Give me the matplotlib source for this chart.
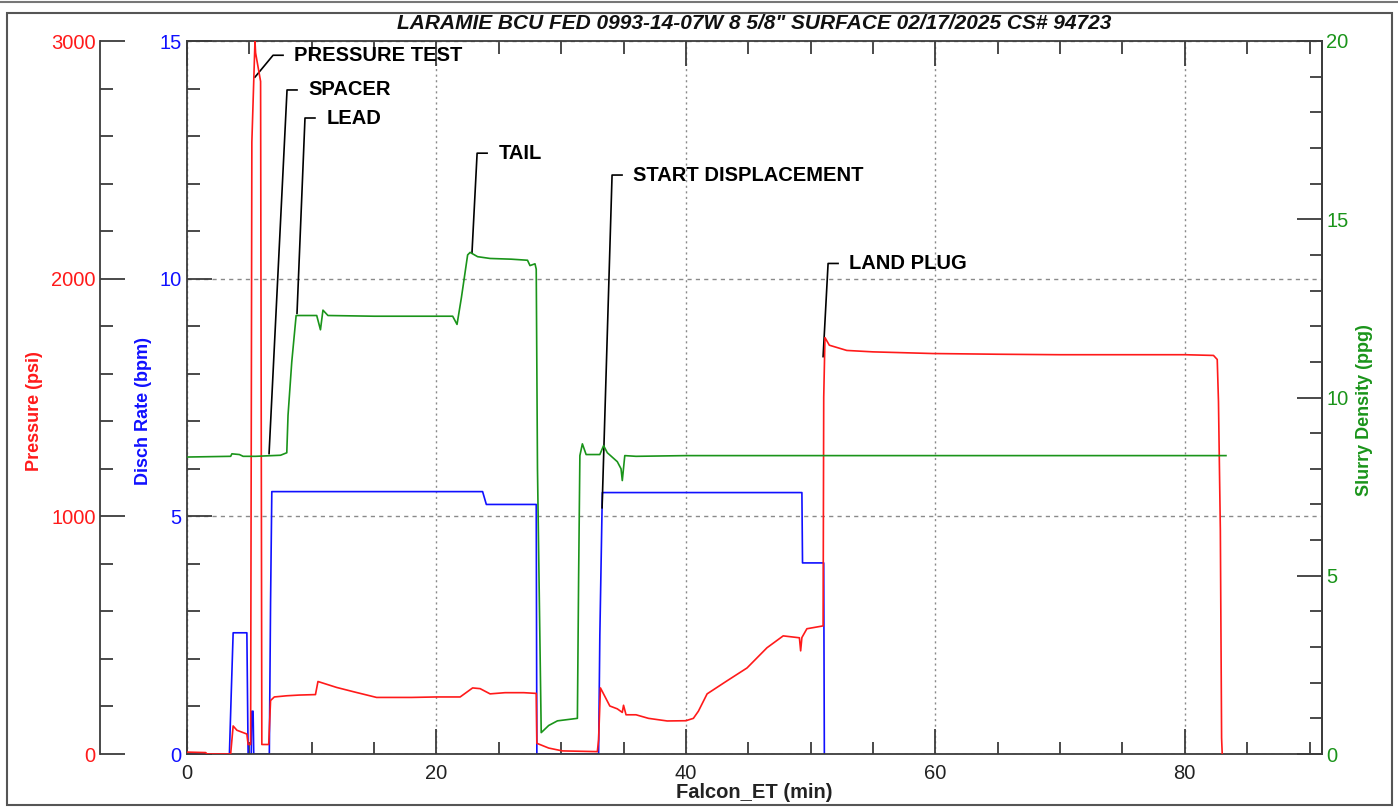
import matplotlib
matplotlib.use('Agg')
import matplotlib.pyplot as plt
from matplotlib.ticker import MultipleLocator
from matplotlib.patches import Rectangle
from matplotlib.lines import Line2D

plt.rcParams['font.family'] = ['Liberation Sans', 'DejaVu Sans']

# --- Dados (tempo em min) ---
pressure_time = [0, 1.5, 1.6, 3.5, 3.7, 4.0, 4.5, 4.8, 4.9, 5.1, 5.2, 5.45, 5.5, 5.9, 6.0,
                 6.55, 6.7, 7.0, 8.0, 9.0, 10.3, 10.5, 10.8, 12.0, 13.5, 15.2, 18.0, 20.0,
                 21.9, 22.9, 23.5, 24.3, 25.5, 27.0, 28.0, 28.05, 29.0, 30.1, 32.9, 33.0,
                 33.15, 33.9, 34.5, 34.9, 35.0, 35.2, 36.0, 37.0, 38.5, 40.0, 40.6, 41.0,
                 41.7, 43.3, 44.9, 46.5, 47.8, 49.1, 49.2, 49.3, 49.7, 51.0, 51.05, 51.15,
                 51.5, 52.9, 55.0, 59.8, 65.0, 70.0, 75.0, 80.0, 82.3, 82.6, 82.7, 82.85,
                 82.95, 83.0]
pressure_psi = [8, 6, 0, 0, 118, 100, 90, 84, 40, 40, 2575, 3000, 2950, 2830, 40,
                40, 225, 240, 245, 248, 250, 305, 300, 280, 260, 238, 238, 240,
                240, 278, 275, 253, 258, 258, 255, 45, 25, 13, 10, 60,
                278, 202, 190, 175, 205, 165, 165, 150, 139, 140, 150, 180,
                253, 308, 362, 447, 497, 489, 434, 490, 527, 539, 1500, 1752,
                1720, 1698, 1692, 1685, 1682, 1680, 1680, 1680, 1677, 1660, 1483, 940,
                67, 0]

rate_time = [0, 3.4, 3.55, 3.7, 4.8, 4.9, 5.15, 5.2, 5.3, 5.35, 6.6, 6.7, 6.8, 23.7,
             24.0, 28.0, 28.05, 33.0, 33.1, 33.3, 49.3, 49.35, 51.05, 51.1]
rate_bpm = [0, 0, 1.3, 2.55, 2.55, 0, 0, 0.9, 0.9, 0, 0, 3.2, 5.52, 5.52,
            5.25, 5.25, 0, 0, 2.5, 5.5, 5.5, 4.02, 4.02, 0]

density_time = [0, 3.5, 3.6, 4.2, 4.5, 5.5, 7.5, 8.0, 8.1, 8.4, 8.75, 10.4, 10.7, 10.9,
                11.3, 15.0, 18.0, 21.3, 21.65, 22.0, 22.5, 22.7, 23.3, 24.3, 26.0, 27.3,
                27.5, 27.9, 28.0, 28.1, 28.4, 29.0, 29.7, 31.3, 31.4, 31.5, 31.7, 32.0,
                33.1, 33.4, 33.7, 34.5, 34.8, 34.9, 35.1, 36.0, 40.0, 83.3]
density_ppg = [8.33, 8.35, 8.42, 8.40, 8.35, 8.35, 8.38, 8.45, 9.5, 11.0, 12.3, 12.3, 11.9, 12.45,
               12.3, 12.28, 12.28, 12.28, 12.05, 12.8, 14.0, 14.07, 13.95, 13.9, 13.88, 13.85,
               13.7, 13.75, 13.6, 8.0, 0.6, 0.8, 0.93, 1.0, 5.0, 8.37, 8.7, 8.4,
               8.4, 8.65, 8.45, 8.2, 8.0, 7.67, 8.37, 8.35, 8.37, 8.37]

# Eventos (âncora na escala de vazão, topo da linha guia)
event_labels = ['PRESSURE TEST', 'SPACER', 'LEAD', 'TAIL', 'START DISPLACEMENT', 'LAND PLUG']
event_time = [5.45, 6.58, 8.82, 22.85, 33.28, 51.0]
event_rate = [14.24, 6.32, 9.27, 10.55, 5.18, 8.36]
label_time = [6.9, 8.02, 9.46, 23.26, 34.08, 51.4]
label_rate = [14.70, 13.97, 13.38, 12.64, 12.18, 10.32]

titulo = 'LARAMIE BCU FED 0993-14-07W 8 5/8" SURFACE 02/17/2025 CS# 94723'

RED = '#ff1a1a'
BLUE = '#1010ff'
GREEN = '#1a941a'
SPINE = '#3c3c3c'

W, H = 1398, 810
fig = plt.figure(figsize=(W / 100, H / 100), dpi=100)
ax = fig.add_axes([187 / W, 1 - 754 / H, (1322 - 187) / W, (754 - 41) / H])
ax_p = ax.twinx()
ax_d = ax.twinx()

# Moldura externa
fig.patches.append(Rectangle((7 / W, 1 - 805 / H), (1392 - 7) / W, (805 - 13) / H,
                             transform=fig.transFigure, fill=False, ec='#555555', lw=1.5))
fig.lines.append(Line2D([0, 1], [1 - 1.5 / H, 1 - 1.5 / H], transform=fig.transFigure,
                        color='#777777', lw=1.5))

# Curvas
ax.plot(rate_time, rate_bpm, color=BLUE, lw=1.2)
ax_p.plot(pressure_time, pressure_psi, color=RED, lw=1.2)
ax_d.plot(density_time, density_ppg, color=GREEN, lw=1.2)

# Linhas guia dos eventos
for lab, t0, r0, t1, r1 in zip(event_labels, event_time, event_rate, label_time, label_rate):
    ax.plot([t0, t1, t1 + 0.8], [r0, r1, r1], color='black', lw=1.2, zorder=5)
    ax.text(t1 + 1.7, r1, lab, ha='left', va='center', fontsize=14.5, fontweight='bold',
            color='black', zorder=6)

# Eixos
ax.set_xlim(0, 91)
ax.set_ylim(0, 15)
ax_p.set_ylim(0, 3000)
ax_d.set_ylim(0, 20)

ax.xaxis.set_major_locator(MultipleLocator(20))
ax.xaxis.set_minor_locator(MultipleLocator(5))
ax.yaxis.set_major_locator(MultipleLocator(5))
ax.yaxis.set_minor_locator(MultipleLocator(1))
ax_p.yaxis.set_major_locator(MultipleLocator(1000))
ax_p.yaxis.set_minor_locator(MultipleLocator(200))
ax_d.yaxis.set_major_locator(MultipleLocator(5))
ax_d.yaxis.set_minor_locator(MultipleLocator(1))

# Grade
ax.xaxis.grid(True, which='major', color='#8a8a8a', linestyle=(0, (1.5, 2.5)), lw=1)
ax.yaxis.grid(True, which='major', color='#8a8a8a', linestyle=(0, (3, 3)), lw=1)
ax.set_axisbelow(True)

for a in (ax, ax_p, ax_d):
    for s in a.spines.values():
        s.set_color(SPINE)
        s.set_linewidth(1.3)

ax.tick_params(axis='x', which='both', direction='in', top=True, bottom=True,
               color=SPINE, width=1.3, labelsize=14.5, pad=7, labelcolor='#222222')
ax.tick_params(axis='y', which='both', direction='in', left=True, right=False,
               color=SPINE, width=1.3, labelsize=14.5, labelcolor=BLUE, pad=4)
ax.tick_params(which='major', length=18)
ax.tick_params(which='minor', length=9)

# Eixo de pressão deslocado à esquerda
ax_p.spines['left'].set_position(('axes', (100 - 187) / 1135))
ax_p.spines['left'].set_visible(True)
for s in ('right', 'top', 'bottom'):
    ax_p.spines[s].set_visible(False)
ax_p.yaxis.set_ticks_position('left')
ax_p.yaxis.set_label_position('left')
ax_p.tick_params(axis='y', which='both', direction='in', color=SPINE, width=1.3,
                 labelsize=14.5, labelcolor=RED, pad=3)
ax_p.tick_params(which='major', length=18)
ax_p.tick_params(which='minor', length=9)

for s in ('left', 'top', 'bottom'):
    ax_d.spines[s].set_visible(False)
ax_d.tick_params(axis='y', which='both', direction='in', color=SPINE, width=1.3,
                 labelsize=14.5, labelcolor=GREEN, pad=3)
ax_d.tick_params(which='major', length=18)
ax_d.tick_params(which='minor', length=9)

# Rótulos
ax.set_ylabel('Disch Rate (bpm)', color=BLUE, fontsize=13, fontweight='bold')
ax.yaxis.set_label_coords((152 - 187) / 1135, 0.481)
ax_p.set_ylabel('Pressure (psi)', color=RED, fontsize=13, fontweight='bold')
ax_p.yaxis.set_label_coords((43 - 187) / 1135, 0.481)
ax_d.set_ylabel('Slurry Density (ppg)', color=GREEN, fontsize=13, fontweight='bold')
ax_d.yaxis.set_label_coords((1356 - 187) / 1135, 0.483)
ax.set_xlabel('Falcon_ET (min)', fontsize=14.5, fontweight='bold', color='#222222')
ax.xaxis.set_label_coords(0.5, -(783 - 754) / 713)

fig.text(754.5 / W, 1 - 23.5 / H, titulo, ha='center', va='center', fontsize=15,
         fontweight='bold', fontstyle='italic', color='#111111')

fig.savefig('out.png', dpi=100)
print('Gráfico salvo: out.png')
